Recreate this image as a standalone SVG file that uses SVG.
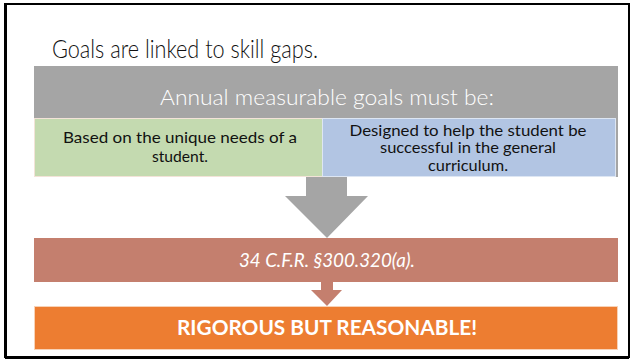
<svg xmlns="http://www.w3.org/2000/svg" width="634" height="360" viewBox="0 0 634 360">
  <style>
    .body { font-family: Lato, "Open Sans", "Liberation Sans", sans-serif; }
    .title { font-size: 25px; font-weight: 300; fill: #111111; }
    .head { font-size: 22px; font-weight: 300; fill: #ffffff; text-anchor: middle; }
    .item { font-size: 15px; fill: #111111; text-anchor: middle; }
    .item2 { font-size: 14.5px; fill: #111111; text-anchor: middle; }
    .cite { font-size: 18.5px; font-style: italic; fill: #ffffff; text-anchor: middle; }
    .bang { font-size: 21px; font-weight: bold; fill: #ffffff; text-anchor: middle; }
  </style>

  <!-- page -->
  <rect x="0" y="0" width="634" height="360" fill="#ffffff"/>
  <rect x="5" y="4" width="624" height="353" fill="none" stroke="#000000" stroke-width="2"/>
  <line x1="6" y1="4" x2="6" y2="358" stroke="#000000" stroke-width="2"/>
  <line x1="5" y1="358" x2="629" y2="358" stroke="#000000" stroke-width="2"/>

  <text class="body title" x="52" y="58" textLength="266" lengthAdjust="spacingAndGlyphs">Goals are linked to skill gaps.</text>

  <g id="goals-header">
    <rect x="34" y="66" width="584" height="111" fill="#A5A5A5"/>
    <text class="body head" x="327" y="105" textLength="334" lengthAdjust="spacingAndGlyphs">Annual measurable goals must be:</text>
  </g>

  <g id="unique-needs">
    <rect x="34.5" y="118.5" width="288" height="58" fill="#C4DAB0" stroke="#F3E3D8" stroke-width="1"/>
    <text class="body item" x="180" y="143" textLength="234" lengthAdjust="spacingAndGlyphs">Based on the unique needs of a</text>
    <text class="body item" x="180" y="162" textLength="56" lengthAdjust="spacingAndGlyphs">student.</text>
  </g>

  <g id="general-curriculum">
    <rect x="322.5" y="118.5" width="293" height="58" fill="#B2C5E3" stroke="#DDE6F3" stroke-width="1"/>
    <text class="body item2" x="468" y="135.5" textLength="237" lengthAdjust="spacingAndGlyphs">Designed to help the student be</text>
    <text class="body item2" x="468" y="153" textLength="176" lengthAdjust="spacingAndGlyphs">successful in the general</text>
    <text class="body item2" x="468" y="170.5" textLength="80" lengthAdjust="spacingAndGlyphs">curriculum.</text>
  </g>

  <g id="connectors">
    <polygon points="306,177 347,177 347,196 368,196 327,238 285,196 306,196" fill="#A5A5A5"/>
    <polygon points="321,282 333,282 333,290 342,290 327,306 311,290 321,290" fill="#C47F6E"/>
  </g>

  <g id="citation">
    <rect x="34" y="238" width="584" height="44" fill="#C47F6E"/>
    <text class="body cite" x="327" y="267" textLength="176" lengthAdjust="spacingAndGlyphs">34 C.F.R. §300.320(a).</text>
  </g>

  <g id="rigorous">
    <rect x="34.5" y="306.5" width="583" height="43" fill="#ED7D31" stroke="#F8D2B6" stroke-width="1"/>
    <text class="body bang" x="327" y="335" textLength="300" lengthAdjust="spacingAndGlyphs">RIGOROUS BUT REASONABLE!</text>
  </g>
</svg>
